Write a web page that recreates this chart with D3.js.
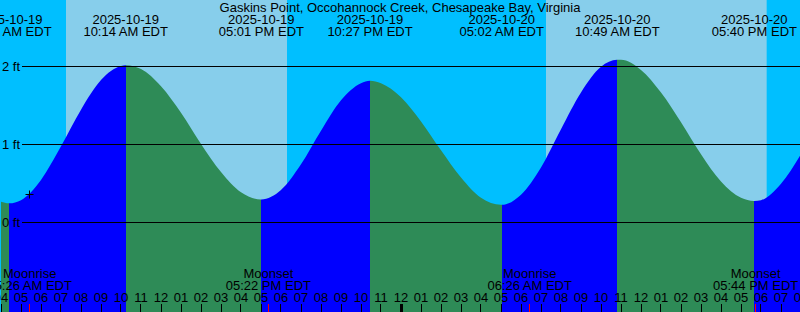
<!DOCTYPE html>
<html>
<head>
<meta charset="utf-8">
<script src="https://cdn.jsdelivr.net/npm/d3@7"></script>
<style>
  html, body { margin: 0; padding: 0; background: #fff; }
  svg { display: block; }
  text { font-family: "Liberation Sans", Arial, sans-serif; font-size: 13px; fill: #000; }
</style>
</head>
<body>
<div id="chart"></div>
<script>
const title = "Gaskins Point, Occohannock Creek, Chesapeake Bay, Virginia";

// chart window, hourly
const startTime = "2025-10-19T04:00";
const endTime = "2025-10-20T20:00";

// tide level (ft) read every hour from 04:00 on 10-19 to 20:00 on 10-20
const hourlyLevels = [
  0.26, 0.28, 0.54, 0.97, 1.44, 1.82, 2.00, 1.96, 1.74, 1.40,
  1.00, 0.64, 0.38, 0.29, 0.41, 0.74, 1.17, 1.56, 1.78, 1.78,
  1.60, 1.29, 0.92, 0.57, 0.31, 0.22, 0.35, 0.70, 1.19, 1.66,
  1.99, 2.08, 1.95, 1.66, 1.28, 0.87, 0.52, 0.31, 0.28, 0.49,
  0.87
];

// high / low tide events
const extremeTimes = [
  "2025-10-19T04:25", "2025-10-19T10:14", "2025-10-19T17:01",
  "2025-10-19T22:27", "2025-10-20T05:02", "2025-10-20T10:49",
  "2025-10-20T17:40"
];
const extremeLevels = [0.24, 2.01, 0.29, 1.81, 0.22, 2.08, 0.27];

// sunrise / sunset
const sunriseTimes = ["2025-10-19T07:15", "2025-10-20T07:15"];
const sunsetTimes = ["2025-10-19T18:18", "2025-10-20T18:17"];

// moon events
const moonNames = ["Moonrise", "Moonset", "Moonrise", "Moonset"];
const moonTimes = ["2025-10-19T05:26", "2025-10-19T17:22", "2025-10-20T06:26", "2025-10-20T17:44"];

const levelTicks = [0, 1, 2];

// "+" mark
const markTime = "2025-10-19T05:25";
const markLevel = 0.365;

const W = 800, H = 312;
const parse = d3.timeParse("%Y-%m-%dT%H:%M");
const t0 = parse(startTime), t1 = parse(endTime);

const x = d3.scaleTime().domain([t0, t1]).range([1, 801]);
const y = d3.scaleLinear().domain([0, 2]).range([222, 66]);

const svg = d3.select("#chart").append("svg")
  .attr("width", W)
  .attr("height", H);

// night background, then day bands on top
svg.append("rect")
  .attr("width", W).attr("height", H)
  .attr("fill", "#00bfff");

svg.selectAll(".day")
  .data(d3.zip(sunriseTimes, sunsetTimes))
  .enter()
  .append("rect")
  .attr("class", "day")
  .attr("x", (d) => x(parse(d[0])))
  .attr("width", (d) => x(parse(d[1])) - x(parse(d[0])))
  .attr("y", 0)
  .attr("height", H)
  .attr("fill", "#87ceeb");

// tide curve points
const hourTimes = d3.timeHour.range(t0, d3.timeHour.offset(t1, 1));
const points = hourTimes.map((t, i) => ({ t, v: hourlyLevels[i] }))
  .concat(extremeTimes.map((s, i) => ({ t: parse(s), v: extremeLevels[i] })))
  .sort((a, b) => a.t - b.t);

const area = d3.area()
  .x((d) => x(d.t))
  .y0(H)
  .y1((d) => y(d.v))
  .curve(d3.curveMonotoneX);

// split into rising / falling segments
const bounds = [t0].concat(extremeTimes.map(parse)).concat([t1]);
const segs = [];
for (let i = 0; i < bounds.length - 1; i++) {
  const a = bounds[i], b = bounds[i + 1];
  let rising;
  if (i === 0) rising = false;
  else rising = extremeLevels[i - 1] < (i < extremeLevels.length ? extremeLevels[i] : 99);
  if (i === extremeLevels.length) rising = extremeLevels[i - 1] < 1;
  segs.push({ a, b, rising });
}

const defs = svg.append("defs");
segs.forEach((s, i) => {
  defs.append("clipPath")
    .attr("id", "seg" + i)
    .append("rect")
    .attr("x", Math.round(x(s.a)))
    .attr("width", Math.round(x(s.b)) - Math.round(x(s.a)) + (i === segs.length - 1 ? 2 : 0))
    .attr("y", 0)
    .attr("height", H);
  svg.append("path")
    .datum(points)
    .attr("clip-path", `url(#seg${i})`)
    .attr("fill", s.rising ? "#0000ff" : "#2e8b57")
    .attr("d", area);
});

// level lines
svg.append("g")
  .selectAll("line")
  .data(levelTicks)
  .enter()
  .append("line")
  .attr("x1", 22)
  .attr("x2", W)
  .attr("y1", (d) => Math.round(y(d)) + 0.5)
  .attr("y2", (d) => Math.round(y(d)) + 0.5)
  .attr("stroke", "#000")
  .attr("stroke-width", 1);

svg.append("g")
  .selectAll("text")
  .data(levelTicks)
  .enter()
  .append("text")
  .attr("x", 20)
  .attr("y", (d) => y(d) + 5)
  .attr("text-anchor", "end")
  .text((d) => d + " ft");

// "+" mark
const mx = Math.round(x(parse(markTime))) + 0.5, my = Math.round(y(markLevel)) + 0.5;
svg.append("path")
  .attr("d", `M${mx - 4},${my}H${mx + 4}M${mx},${my - 4}V${my + 4}`)
  .attr("stroke", "#000")
  .attr("stroke-width", 1);

// title
svg.append("text")
  .attr("x", W / 2)
  .attr("y", 12)
  .attr("text-anchor", "middle")
  .text(title);

// tide event labels
const fmtDate = d3.timeFormat("%Y-%m-%d");
const fmtTime = d3.timeFormat("%I:%M %p EDT");
const ev = svg.append("g")
  .selectAll("g")
  .data(extremeTimes.map(parse))
  .enter()
  .append("g")
  .attr("transform", (d) => `translate(${x(d)},0)`);
ev.append("text").attr("y", 24).attr("text-anchor", "middle").text((d) => fmtDate(d));
ev.append("text").attr("y", 36).attr("text-anchor", "middle").text((d) => fmtTime(d));

// moon labels
const moon = svg.append("g")
  .selectAll("g")
  .data(moonTimes.map((s, i) => ({ t: parse(s), name: moonNames[i] })))
  .enter()
  .append("g")
  .attr("transform", (d) => `translate(${x(d.t)},0)`);
moon.append("text").attr("y", 278).attr("text-anchor", "middle").text((d) => d.name);
moon.append("text").attr("y", 290).attr("text-anchor", "middle").text((d) => fmtTime(d.t));

// hour ticks
const ticks = x.ticks(d3.timeHour.every(1));
svg.append("g")
  .selectAll("line")
  .data(ticks)
  .enter()
  .append("line")
  .attr("x1", (d) => Math.floor(x(d)) + 0.5)
  .attr("x2", (d) => Math.floor(x(d)) + 0.5)
  .attr("y1", 304)
  .attr("y2", H)
  .attr("stroke", "#000")
  .attr("stroke-width", (d) => (d.getHours() === 0 ? 3 : 1));

svg.append("g")
  .selectAll("text")
  .data(ticks)
  .enter()
  .append("text")
  .attr("x", (d) => x(d))
  .attr("y", 302)
  .attr("text-anchor", "middle")
  .text((d) => d3.timeFormat("%I")(d));

// moon event ticks
svg.append("g")
  .selectAll("line")
  .data(moonTimes.map(parse))
  .enter()
  .append("line")
  .attr("x1", (d) => Math.floor(x(d)) + 0.5)
  .attr("x2", (d) => Math.floor(x(d)) + 0.5)
  .attr("y1", 304)
  .attr("y2", H)
  .attr("stroke", "#ff0000")
  .attr("stroke-width", 1);
</script>
</body>
</html>
